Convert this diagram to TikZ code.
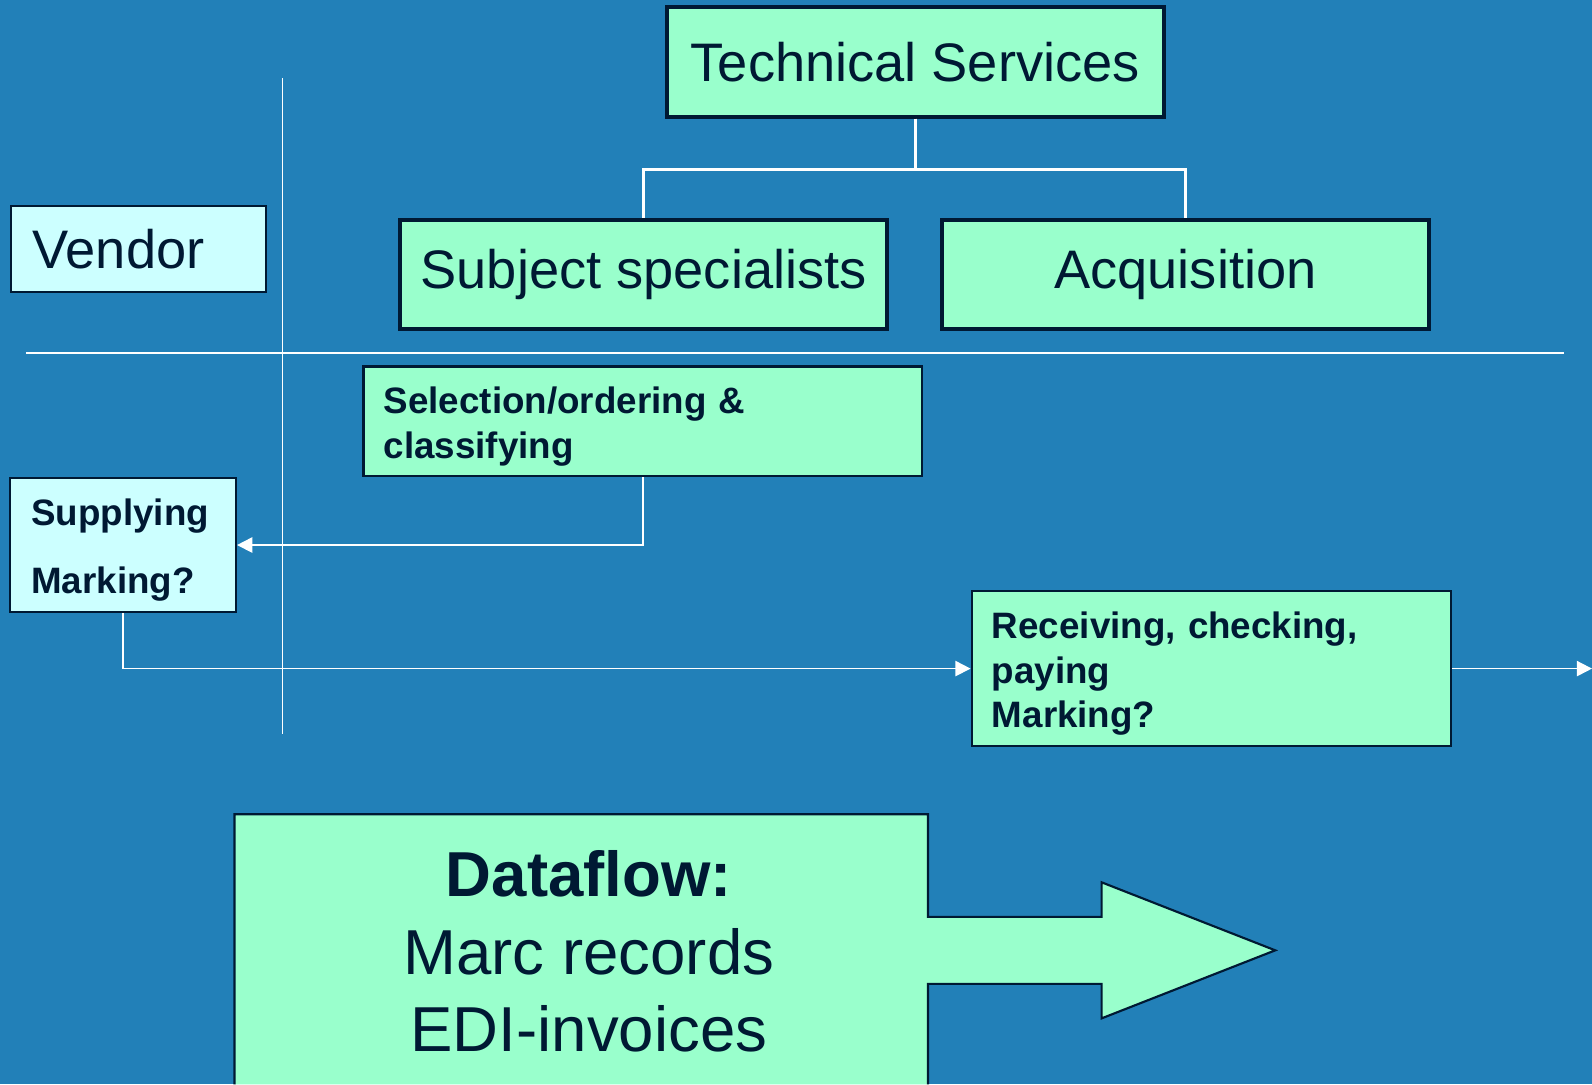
\documentclass[tikz,border=0pt]{standalone}
\usepackage{fontspec}
\setmainfont{Liberation Sans}
\usetikzlibrary{arrows.meta}
\definecolor{slidebg}{RGB}{34,128,184}
\definecolor{mint}{RGB}{153,255,204}
\definecolor{paleblue}{RGB}{204,255,255}
\definecolor{navy}{RGB}{0,25,51}

\begin{document}
\begin{tikzpicture}[node distance=2cm, auto, text=navy]
  % Define block styles
  \tikzstyle{unit} = [rectangle, draw=navy, fill=mint, line width=1.1pt, inner sep=0pt, font=\fontsize{15.2}{18}\selectfont]
  \tikzstyle{party} = [rectangle, draw=navy, fill=paleblue, line width=0.6pt, inner xsep=0.21cm, inner ysep=0pt, align=left]
  \tikzstyle{task} = [rectangle, draw=navy, fill=mint, line width=0.6pt, inner xsep=0.2cm, inner ysep=0pt, align=left, font=\fontsize{10.3}{12.5}\selectfont\bfseries, execute at begin node={\rule{0pt}{10.4pt}}]
  \tikzstyle{branch} = [draw=white, line width=0.9pt]
  \tikzstyle{rule} = [draw=white, line width=0.45pt]
  \tikzstyle{line} = [draw=white, line width=0.5pt, -{Triangle[length=0.15cm, width=0.15cm]}]

  % Slide background
  \useasboundingbox (0,0) rectangle (15.68,-10.68);
  \fill [slidebg] (0,0) rectangle (15.68,-10.68);

  % Place blocks
  \node [unit, minimum width=4.89cm, minimum height=1.08cm] (tech) at (9.015,-0.61) {Technical Services};
  \node [unit, minimum width=4.80cm, minimum height=1.07cm] (subject) at (6.34,-2.705) {Subject specialists};
  \node [unit, right of=subject, node distance=5.335cm, minimum width=4.79cm, minimum height=1.07cm] (acq) {Acquisition};
  \node [party, text width=2.09cm, minimum height=0.843cm, font=\fontsize{15.2}{18}\selectfont] (vendor) at (1.366,-2.452) {Vendor};
  \node [task, text width=5.10cm, minimum height=1.08cm] (select) at (6.33,-4.15) {Selection/ordering \&\\classifying};
  \node [party, text width=1.806cm, minimum height=1.32cm, font=\fontsize{10.3}{19}\selectfont\bfseries, execute at begin node={\rule{0pt}{10.4pt}}] (supply) at (1.211,-5.368) {Supplying\\Marking?};
  \node [task, text width=4.32cm, minimum height=1.53cm] (receive) at (11.93,-6.585) {Receiving, checking,\\paying\\Marking?};

  % Dataflow arrow
  \path [draw=navy, fill=mint, line width=0.6pt] (2.31,-10.68) -- (2.31,-8.02) -- (9.14,-8.02) -- (9.14,-9.03) -- (10.85,-9.03) -- (10.85,-8.69)
    -- (12.56,-9.36) -- (10.85,-10.03) -- (10.85,-9.69) -- (9.14,-9.69) -- (9.14,-10.68);
  \node [font=\fontsize{17.8}{21.6}\selectfont, align=center] (flow) at (5.80,-9.37) {\textbf{Dataflow:}\\Marc records\\EDI-invoices};

  % Swimlane rules
  \coordinate (colTop) at (2.784,-0.77);
  \coordinate (colBot) at (2.784,-7.23);
  \coordinate (rowL) at (0.256,-3.474);
  \coordinate (rowR) at (15.40,-3.474);
  \coordinate (exit) at (15.68,-6.60);
  \path [rule] (colTop) -- (colBot);
  \path [rule] (rowL) -- (rowR);

  % Draw lines
  \path [branch] (tech.south) -- ++(0,-0.5) -| (subject.north);
  \path [branch] (tech.south) -- ++(0,-0.5) -| (acq.north);
  \path [line] (select.south) |- (supply.east);
  \path [line] (supply.south) |- (receive.west);
  \path [line] (receive.east) -- (receive.east -| exit);
\end{tikzpicture}
\end{document}
